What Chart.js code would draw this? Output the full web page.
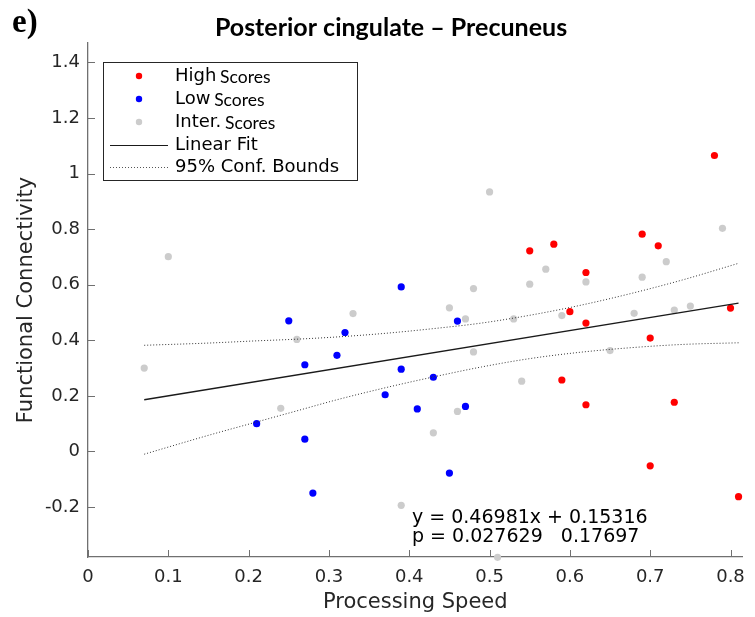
<!DOCTYPE html>
<html>
<head>
<meta charset="utf-8">
<script src="https://cdn.jsdelivr.net/npm/chart.js@4.4.1/dist/chart.umd.min.js"></script>
<style>
  body { margin: 0; background: #fff; }
  #wrap { width: 755px; height: 617px; }
</style>
</head>
<body>
<div id="wrap"><canvas id="myChart" width="755" height="617"></canvas></div>
<script>
// points, [processing speed, functional connectivity]
const highScores = [
  [0.78, 1.065], [0.69, 0.782], [0.71, 0.740], [0.58, 0.746], [0.55, 0.722],
  [0.62, 0.644], [0.60, 0.503], [0.62, 0.462], [0.80, 0.516], [0.70, 0.408],
  [0.59, 0.257], [0.62, 0.168], [0.73, 0.177], [0.70, -0.052], [0.81, -0.163]
];
const lowScores = [
  [0.39, 0.592], [0.25, 0.470], [0.32, 0.428], [0.31, 0.346], [0.27, 0.312],
  [0.39, 0.296], [0.37, 0.204], [0.41, 0.153], [0.21, 0.100], [0.27, 0.044],
  [0.28, -0.150], [0.46, 0.469], [0.43, 0.267], [0.47, 0.162], [0.45, -0.078]
];
const interScores = [
  [0.10, 0.701], [0.50, 0.934], [0.79, 0.803], [0.72, 0.683], [0.57, 0.656],
  [0.62, 0.610], [0.69, 0.627], [0.55, 0.602], [0.48, 0.586], [0.33, 0.496],
  [0.26, 0.403], [0.07, 0.300], [0.24, 0.155], [0.39, -0.194], [0.45, 0.517],
  [0.47, 0.477], [0.53, 0.477], [0.59, 0.489], [0.68, 0.497], [0.73, 0.509],
  [0.75, 0.523], [0.65, 0.363], [0.48, 0.358], [0.54, 0.253], [0.46, 0.144],
  [0.43, 0.067], [0.51, -0.381]
];

// fit line end points
const fitX = [0.07, 0.81];
const fitY = [0.186, 0.534];

// confidence bounds
const confX = [0.07, 0.15, 0.21, 0.26, 0.31, 0.37, 0.43, 0.49, 0.55, 0.61, 0.67, 0.74, 0.81];
const confUpper = [0.382, 0.390, 0.398, 0.404, 0.412, 0.425, 0.442, 0.462, 0.490, 0.524, 0.564, 0.617, 0.677];
const confLower = [-0.010, 0.058, 0.106, 0.146, 0.186, 0.229, 0.268, 0.304, 0.334, 0.356, 0.372, 0.385, 0.391];

const xTicks = [0, 0.1, 0.2, 0.3, 0.4, 0.5, 0.6, 0.7, 0.8];
const yTicks = [-0.2, 0, 0.2, 0.4, 0.6, 0.8, 1, 1.2, 1.4];

const FONT = "'DejaVu Sans', sans-serif";
const AXIS_COLOR = '#707070';
const TEXT_COLOR = '#262626';

function toXY(arr) {
  return arr.map(p => ({x: p[0], y: p[1]}));
}
function pairUp(xs, ys) {
  return xs.map((x, i) => ({x: x, y: ys[i]}));
}

// inward tick marks, MATLAB style
const tickMarks = {
  id: 'tickMarks',
  afterDraw(chart) {
    const ctx = chart.ctx;
    const xs = chart.scales.x, ys = chart.scales.y;
    const area = chart.chartArea;
    ctx.save();
    ctx.strokeStyle = AXIS_COLOR;
    ctx.lineWidth = 1;
    xTicks.forEach(v => {
      const px = Math.round(xs.getPixelForValue(v)) + 0.5;
      ctx.beginPath();
      ctx.moveTo(px, area.bottom);
      ctx.lineTo(px, area.bottom - 7);
      ctx.stroke();
    });
    yTicks.forEach(v => {
      const py = Math.round(ys.getPixelForValue(v)) + 0.5;
      ctx.beginPath();
      ctx.moveTo(area.left, py);
      ctx.lineTo(area.left + 7, py);
      ctx.stroke();
    });
    ctx.restore();
  }
};

// title, panel letter, legend box and the fit text
const extras = {
  id: 'extras',
  afterDraw(chart) {
    const ctx = chart.ctx;
    ctx.save();

    ctx.fillStyle = '#000';
    ctx.textBaseline = 'alphabetic';
    ctx.font = "bold 33px 'Liberation Serif', serif";
    ctx.textAlign = 'left';
    ctx.fillText('e)', 12, 32);

    ctx.font = "bold 25px Lato, sans-serif";
    ctx.textAlign = 'center';
    ctx.fillText('Posterior cingulate \u2013 Precuneus', 391, 36);

    // legend
    const lx = 103, ly = 62, lw = 254, lh = 118;
    ctx.fillStyle = '#fff';
    ctx.fillRect(lx, ly, lw, lh);
    ctx.strokeStyle = '#262626';
    ctx.lineWidth = 1;
    ctx.strokeRect(lx + 0.5, ly + 0.5, lw, lh);

    const rows = [
      {kind: 'dot', color: '#ff0000', a: 'High', b: 'Scores', y: 76},
      {kind: 'dot', color: '#0000ff', a: 'Low', b: 'Scores', y: 99},
      {kind: 'dot', color: '#cccccc', a: 'Inter.', b: 'Scores', y: 122},
      {kind: 'line', a: 'Linear Fit', y: 145},
      {kind: 'dots', a: '95% Conf. Bounds', y: 167}
    ];
    rows.forEach(r => {
      if (r.kind === 'dot') {
        ctx.fillStyle = r.color;
        ctx.beginPath();
        ctx.arc(139, r.y, 3.2, 0, Math.PI * 2);
        ctx.fill();
      } else {
        ctx.strokeStyle = r.kind === 'line' ? '#1a1a1a' : '#555';
        ctx.lineWidth = 1;
        ctx.setLineDash(r.kind === 'line' ? [] : [1, 2]);
        ctx.beginPath();
        ctx.moveTo(110, r.y + 0.5);
        ctx.lineTo(168, r.y + 0.5);
        ctx.stroke();
        ctx.setLineDash([]);
      }
      ctx.fillStyle = '#000';
      ctx.textAlign = 'left';
      ctx.textBaseline = 'middle';
      ctx.font = '18px ' + FONT;
      ctx.fillText(r.a, 175, r.y);
      if (r.b) {
        const w = ctx.measureText(r.a + ' ').width;
        ctx.font = '17.5px Lato, sans-serif';
        ctx.fillText(r.b, 175 + w - 2, r.y + 1);
      }
    });

    ctx.fillStyle = '#000';
    ctx.textAlign = 'left';
    ctx.textBaseline = 'middle';
    ctx.font = '19px ' + FONT;
    ctx.fillText('y = 0.46981x + 0.15316', 412, 518);
    ctx.fillText('p = 0.027629   0.17697', 412, 537);

    ctx.restore();
  }
};

const ctx = document.getElementById('myChart');

const measurements_chart = new Chart(ctx, {
  type: 'scatter',
  data: {
    datasets: [
      {
        label: '95% Conf. Bounds',
        type: 'line',
        data: pairUp(confX, confUpper),
        borderColor: '#333',
        borderWidth: 1,
        borderDash: [1, 2],
        pointRadius: 0,
        cubicInterpolationMode: 'monotone',
        fill: false
      },
      {
        label: '95% Conf. Bounds low',
        type: 'line',
        data: pairUp(confX, confLower),
        borderColor: '#333',
        borderWidth: 1,
        borderDash: [1, 2],
        pointRadius: 0,
        cubicInterpolationMode: 'monotone',
        fill: false
      },
      {
        label: 'Linear Fit',
        type: 'line',
        data: pairUp(fitX, fitY),
        borderColor: '#1a1a1a',
        borderWidth: 1.3,
        pointRadius: 0,
        fill: false
      },
      {
        label: 'Inter. Scores',
        data: toXY(interScores),
        backgroundColor: '#cccccc',
        borderWidth: 0,
        pointRadius: 3.6,
        clip: false
      },
      {
        label: 'Low Scores',
        data: toXY(lowScores),
        backgroundColor: '#0000ff',
        borderWidth: 0,
        pointRadius: 3.6,
        clip: false
      },
      {
        label: 'High Scores',
        data: toXY(highScores),
        backgroundColor: '#ff0000',
        borderWidth: 0,
        pointRadius: 3.6,
        clip: false
      }
    ]
  },
  options: {
    responsive: false,
    animation: false,
    devicePixelRatio: 1,
    layout: { padding: { top: 43, right: 10, left: 0, bottom: 0 } },
    scales: {
      x: {
        type: 'linear',
        min: 0,
        max: 0.815,
        afterBuildTicks: axis => { axis.ticks = xTicks.map(v => ({value: v})); },
        afterFit: axis => { axis.height = 60; },
        grid: { display: false, drawTicks: false },
        border: { display: true, color: AXIS_COLOR, width: 1.3 },
        ticks: {
          color: TEXT_COLOR,
          font: { family: FONT, size: 18 },
          padding: 10,
          maxRotation: 0,
          callback: v => String(v)
        },
        title: {
          display: true,
          text: 'Processing Speed',
          color: TEXT_COLOR,
          font: { family: FONT, size: 21 },
          padding: { top: 0, bottom: 2 }
        }
      },
      y: {
        type: 'linear',
        min: -0.38,
        max: 1.47,
        afterBuildTicks: axis => { axis.ticks = yTicks.map(v => ({value: v})); },
        afterFit: axis => { axis.width = 88; },
        grid: { display: false, drawTicks: false },
        border: { display: true, color: AXIS_COLOR, width: 1.3 },
        ticks: {
          color: TEXT_COLOR,
          font: { family: FONT, size: 18 },
          padding: 8,
          callback: v => String(v)
        },
        title: {
          display: true,
          text: 'Functional Connectivity',
          color: TEXT_COLOR,
          font: { family: FONT, size: 21 },
          padding: { top: 14, bottom: 0 }
        }
      }
    },
    plugins: {
      legend: { display: false },
      tooltip: { enabled: false },
      title: { display: false }
    }
  },
  plugins: [tickMarks, extras]
});
</script>
</body>
</html>
